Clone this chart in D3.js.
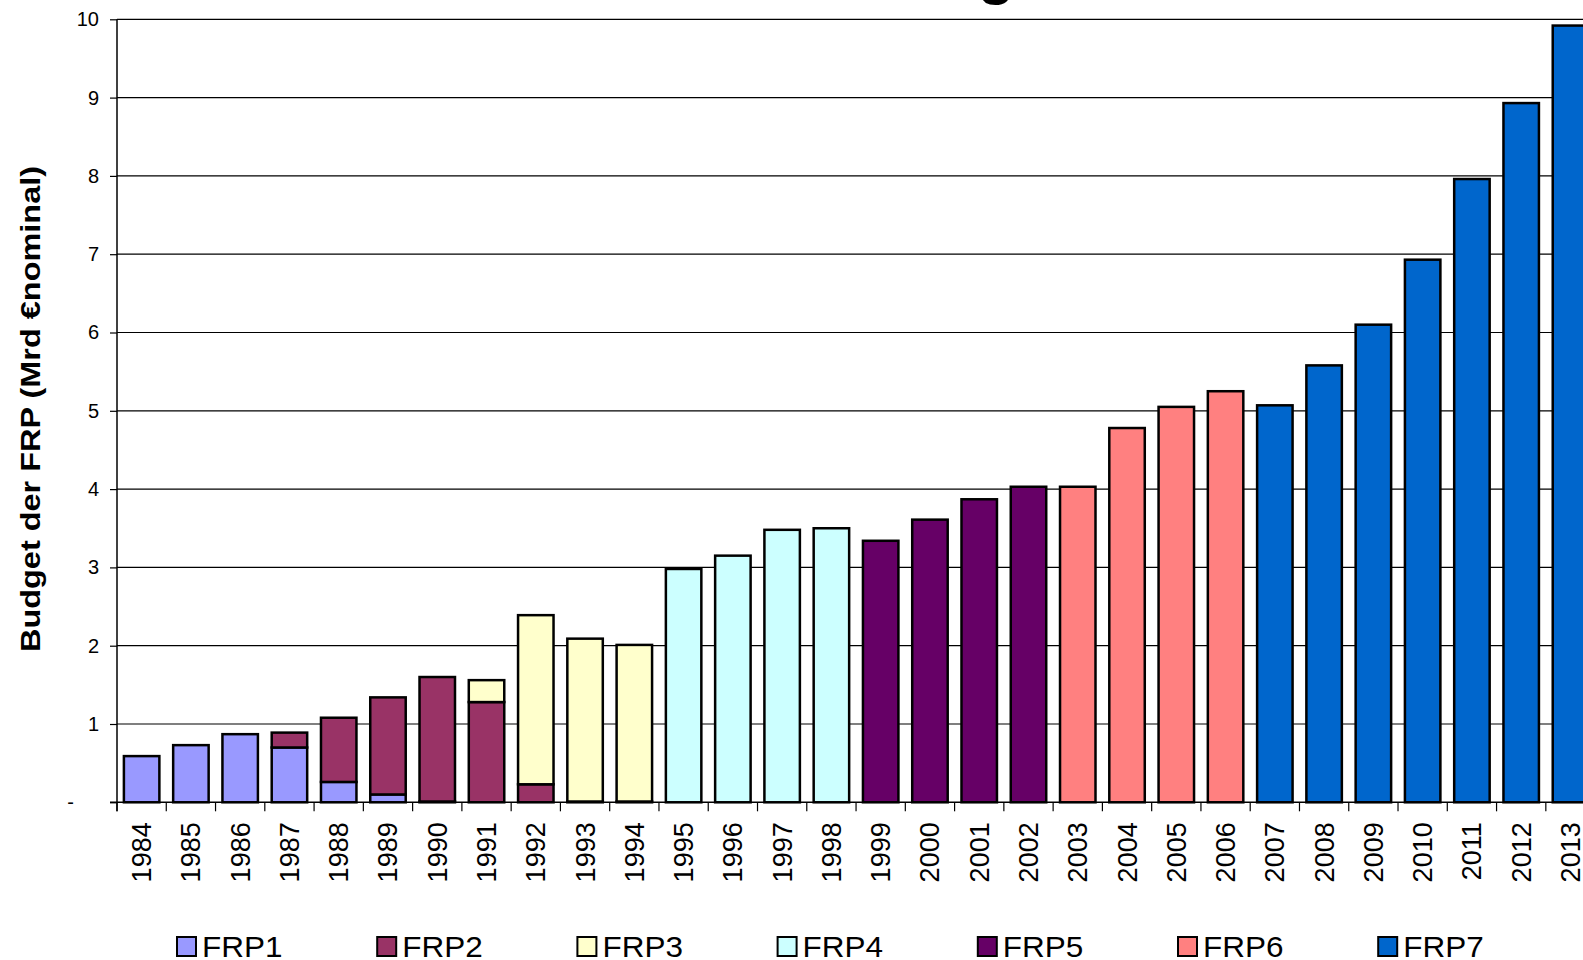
<!DOCTYPE html>
<html>
<head>
<meta charset="utf-8">
<script src="https://cdn.jsdelivr.net/npm/d3@7"></script>
<style>
  html, body { margin: 0; padding: 0; background: #fff; overflow: hidden; }
  svg { display: block; font-family: Arial, "Liberation Sans", Helvetica, sans-serif; }
</style>
</head>
<body>
<svg id="chart" width="1583" height="960"></svg>
<script>
// ---- data ----
const years = ["1984","1985","1986","1987","1988","1989","1990","1991","1992","1993",
               "1994","1995","1996","1997","1998","1999","2000","2001","2002","2003",
               "2004","2005","2006","2007","2008","2009","2010","2011","2012","2013"];
const seriesNames = ["FRP1","FRP2","FRP3","FRP4","FRP5","FRP6","FRP7"];
const seriesColors = ["#9999FF","#993366","#FFFFCC","#CCFFFF","#660066","#FF8080","#0066CC"];
const frp1 = [0.59,0.73,0.87,0.70,0.26,0.10,0.01,0,0,0, 0,0,0,0,0,0,0,0,0,0, 0,0,0,0,0,0,0,0,0,0];
const frp2 = [0,0,0,0.19,0.82,1.24,1.59,1.28,0.23,0.01, 0.01,0,0,0,0,0,0,0,0,0, 0,0,0,0,0,0,0,0,0,0];
const frp3 = [0,0,0,0,0,0,0,0.28,2.16,2.08, 2.00,0,0,0,0,0,0,0,0,0, 0,0,0,0,0,0,0,0,0,0];
const frp4 = [0,0,0,0,0,0,0,0,0,0, 0,2.98,3.15,3.48,3.50,0,0,0,0,0, 0,0,0,0,0,0,0,0,0,0];
const frp5 = [0,0,0,0,0,0,0,0,0,0, 0,0,0,0,0,3.34,3.61,3.87,4.03,0, 0,0,0,0,0,0,0,0,0,0];
const frp6 = [0,0,0,0,0,0,0,0,0,0, 0,0,0,0,0,0,0,0,0,4.03, 4.78,5.05,5.25,0,0,0,0,0,0,0];
const frp7 = [0,0,0,0,0,0,0,0,0,0, 0,0,0,0,0,0,0,0,0,0, 0,0,0,5.07,5.58,6.10,6.93,7.96,8.93,9.92];
const yTickValues = [0,1,2,3,4,5,6,7,8,9,10];
const yTickLabels = ["-","1","2","3","4","5","6","7","8","9","10"];
const yAxisTitle = "Budget der FRP (Mrd \u20ACnominal)";
const chartTitle = "Budget der FRP";

// ---- build table ----
const seriesValues = [frp1,frp2,frp3,frp4,frp5,frp6,frp7];
const table = years.map((yr,i) => {
  const row = {year: yr};
  seriesNames.forEach((s,k) => row[s] = seriesValues[k][i]);
  return row;
});
const stacked = d3.stack().keys(seriesNames)(table);
const color = d3.scaleOrdinal().domain(seriesNames).range(seriesColors);

const svg = d3.select("#chart");
const mLeft = 117, mTop = 19.3, mBottom = 802.3, step = 49.27;
const x = d3.scaleBand().domain(years).range([mLeft, mLeft + step*years.length])
  .paddingInner(0.28).paddingOuter(0.14);
const y = d3.scaleLinear().domain([0,10]).range([mBottom, mTop]);

// title (mostly cut off above the view)
const title = svg.append("text")
  .attr("font-size", 60).attr("font-weight", "bold").attr("fill", "#000")
  .attr("y", -7.5).attr("x", 0).text(chartTitle);
try {
  const gi = chartTitle.indexOf("g");
  const ext = title.node().getExtentOfChar(gi);
  title.attr("x", 996 - (ext.x + ext.width/2));
} catch (e) { title.attr("x", 700); }

// gridlines
svg.append("g").selectAll("line").data(yTickValues.filter(v => v > 0)).join("line")
  .attr("x1", mLeft).attr("x2", 1583)
  .attr("y1", d => y(d)).attr("y2", d => y(d))
  .attr("stroke", "#000").attr("stroke-width", 1.2);

// bars
svg.append("g").selectAll("g").data(stacked).join("g")
  .attr("fill", d => color(d.key))
  .selectAll("rect").data(d => d.filter(p => p[1] - p[0] > 0)).join("rect")
  .attr("x", d => x(d.data.year))
  .attr("width", x.bandwidth())
  .attr("y", d => y(d[1]))
  .attr("height", d => y(d[0]) - y(d[1]))
  .attr("stroke", "#000").attr("stroke-width", 2.5);

// y axis
const yAxis = d3.axisLeft(y).tickValues(yTickValues).tickSize(7).tickPadding(11)
  .tickFormat((d,i) => yTickLabels[i]);
const ya = svg.append("g").attr("transform", `translate(${mLeft},0)`).call(yAxis);
ya.select(".domain").remove();
ya.selectAll(".tick line").attr("stroke", "#000").attr("stroke-width", 1.2);
ya.selectAll(".tick text").attr("font-size", 20).attr("fill", "#000")
  .attr("font-family", "Arial, 'Liberation Sans', sans-serif")
  .attr("dx", (d,i) => yTickLabels[i] === "-" ? -25 : 0);
svg.append("line").attr("x1", mLeft).attr("x2", mLeft).attr("y1", mTop).attr("y2", mBottom + 9)
  .attr("stroke", "#000").attr("stroke-width", 1.5);

// x axis baseline & category ticks
svg.append("line").attr("x1", mLeft - 7).attr("x2", 1583).attr("y1", mBottom).attr("y2", mBottom)
  .attr("stroke", "#000").attr("stroke-width", 1.5);
const boundaries = years.map(yr => x(yr) - (x.step() - x.bandwidth())/2);
svg.append("g").selectAll("line").data(boundaries).join("line")
  .attr("x1", d => d).attr("x2", d => d).attr("y1", mBottom).attr("y2", mBottom + 9)
  .attr("stroke", "#000").attr("stroke-width", 1.2);

// x labels
svg.append("g").selectAll("text").data(years).join("text")
  .attr("transform", d => `translate(${x(d) + x.bandwidth()/2 + 9.5},${mBottom + 20}) rotate(-90)`)
  .attr("text-anchor", "end").attr("font-size", 27).attr("fill", "#000")
  .text(d => d);

// y axis title
svg.append("text")
  .attr("transform", `translate(40,409) rotate(-90)`)
  .attr("text-anchor", "middle").attr("font-size", 27).attr("font-weight", "bold")
  .attr("textLength", 486).attr("lengthAdjust", "spacingAndGlyphs")
  .text(yAxisTitle);

// legend
const lg = svg.append("g").selectAll("g").data(seriesNames).join("g")
  .attr("transform", (d,i) => `translate(${177 + i*200.2},937)`);
lg.append("rect").attr("width", 19).attr("height", 19)
  .attr("fill", d => color(d)).attr("stroke", "#000").attr("stroke-width", 2);
lg.append("text").attr("x", 25).attr("y", 19.5).attr("font-size", 30).attr("fill", "#000")
  .text(d => d)
  .each(function() {
    const len = this.getComputedTextLength();
    d3.select(this).attr("textLength", len * 1.05).attr("lengthAdjust", "spacingAndGlyphs");
  });
</script>
</body>
</html>
